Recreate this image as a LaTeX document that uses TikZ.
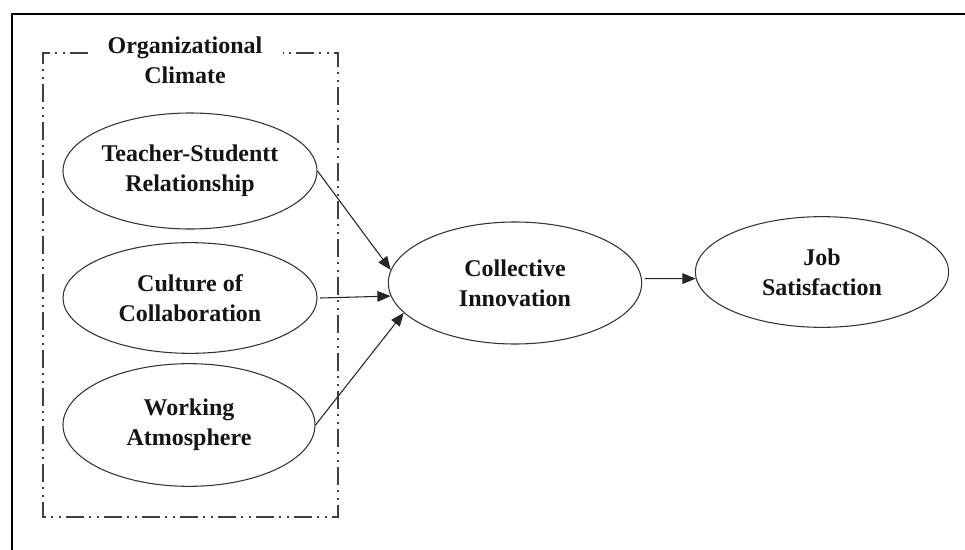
\documentclass[tikz,border=0pt]{standalone}
\usepackage{fontspec}
\setmainfont{Liberation Serif}
\usetikzlibrary{shapes.geometric,arrows.meta}
\definecolor{slate}{RGB}{58,64,76}
\begin{document}
\begin{tikzpicture}[x=0.75pt,y=-0.75pt,
  lbl/.style={font=\fontsize{18}{22.5}\selectfont\bfseries, text=black!92, align=center},
  oval/.style={lbl, ellipse, draw=black!80, line width=0.8pt, inner sep=0pt},
  conn/.style={draw=black!85, line width=0.8pt, -{Triangle[length=10pt,width=8pt]}},
  grp/.style={draw=slate, line width=1.3pt, dash pattern=on 13.5pt off 4pt on 1.5pt off 4pt on 1.5pt off 4pt},
  frame/.style={draw=black, line width=2.2pt}
]
\useasboundingbox (0,0) rectangle (965,550);
% outer frame (top and left visible)
\draw[frame] (12,550) -- (12,14) -- (965,14);
% group box
\draw[grp] (88,53) -- (43,53) -- (43,517) -- (338,517) -- (338,53) -- (283,53);
\node[lbl] (title) at (185,60) {Organizational\\Climate};
% nodes
\node[oval, minimum width=190.5pt, minimum height=87pt] (ts) at (190,171) {Teacher-Studentt\\Relationship};
\node[oval, minimum width=190.5pt, minimum height=83pt] (cc) at (190,298) {Culture of\\Collaboration};
\node[oval, minimum width=189pt, minimum height=92pt] (wa) at (189,425) {Working\\Atmosphere};
\node[oval, minimum width=190pt, minimum height=91.5pt] (ci) at (515,283) {Collective\\Innovation};
\node[oval, minimum width=190pt, minimum height=83pt] (js) at (822,272) {Job\\Satisfaction};
% connectors
\draw[conn] (ts.east) -- (ci.174);
\draw[conn] ([xshift=2pt]cc.east) -- (ci.186);
\draw[conn] (wa.east) -- (ci.195);
\draw[conn] ([xshift=2pt]ci.2) -- (js.183);
\end{tikzpicture}
\end{document}
